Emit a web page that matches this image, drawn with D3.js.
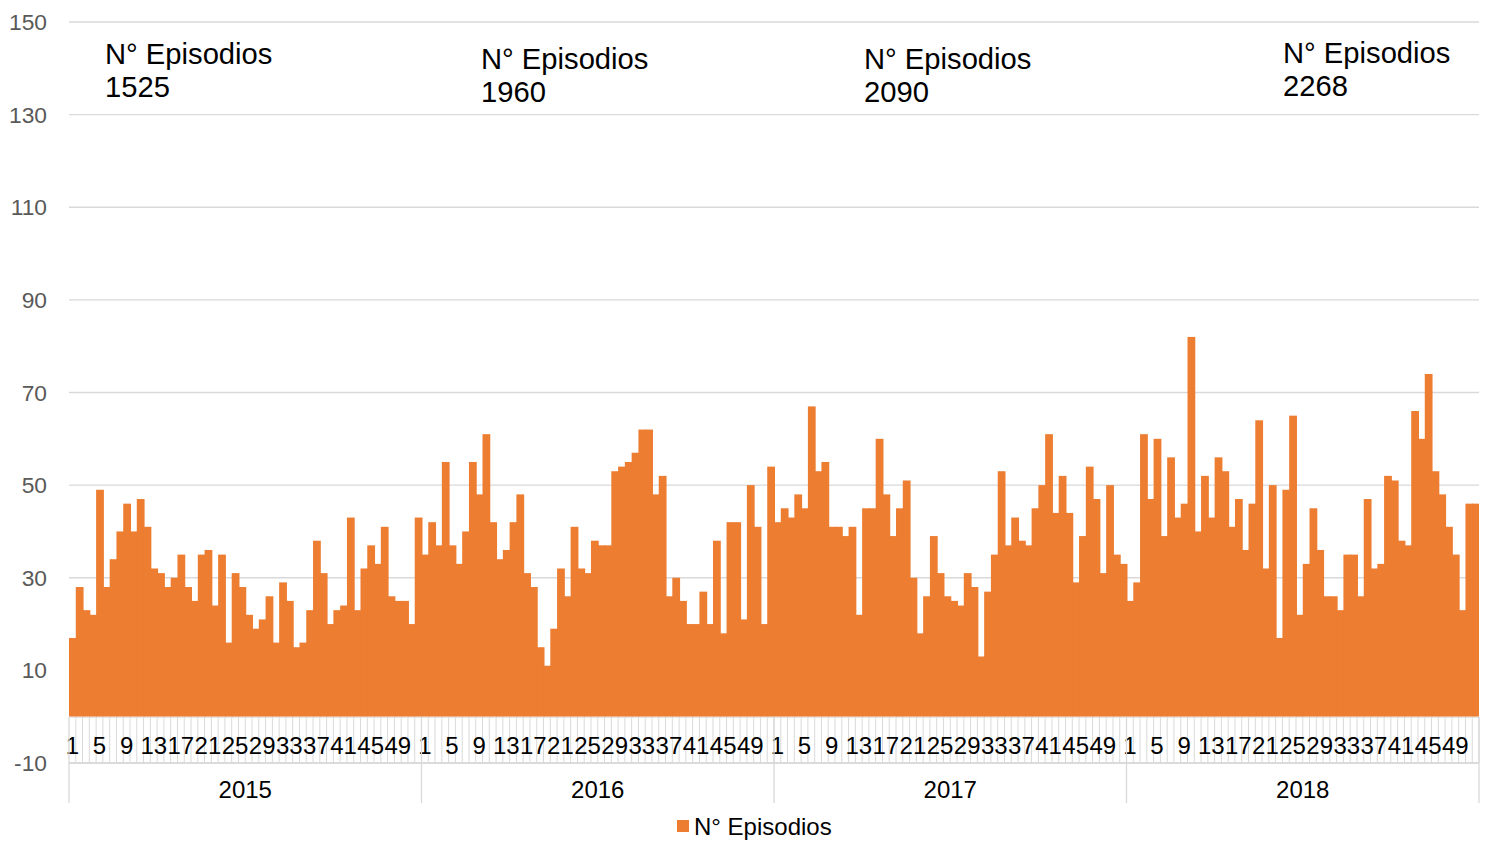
<!DOCTYPE html>
<html>
<head>
<meta charset="utf-8">
<script src="https://cdn.jsdelivr.net/npm/d3@7"></script>
<style>
  html, body { margin: 0; padding: 0; background: #fff; }
  svg { display: block; font-family: "Liberation Sans", Arial, sans-serif; }
</style>
</head>
<body>
<svg id="chart" width="1488" height="842"></svg>
<script>
// ---- data ----
const years = ["2015", "2016", "2017", "2018"];
const weeks = d3.range(1, 53);
const values2015 = [17,28,23,22,49,28,34,40,46,40,47,41,32,31,28,30,35,28,25,35,36,24,35,16,31,28,22,19,21,26,16,29,25,15,16,23,38,31,20,23,24,43,23,32,37,33,41,26,25,25,20,43];
const values2016 = [35,42,37,55,37,33,40,55,48,61,42,34,36,42,48,31,28,15,11,19,32,26,41,32,31,38,37,37,53,54,55,57,62,62,48,52,26,30,25,20,20,27,20,38,18,42,42,21,50,41,20,54];
const values2017 = [42,45,43,48,45,67,53,55,41,41,39,41,22,45,45,60,48,39,45,51,30,18,26,39,31,26,25,24,31,28,13,27,35,53,37,43,38,37,45,50,61,44,52,44,29,39,54,47,31,50,35,33];
const values2018 = [25,29,61,47,60,39,56,43,46,82,40,52,43,56,53,41,47,36,46,64,32,50,17,49,65,22,33,45,36,26,26,23,35,35,26,47,32,33,52,51,38,37,66,60,74,53,48,41,35,23,46,46];
const yearTotals = ["1525", "1960", "2090", "2268"];
const seriesName = "N° Episodios";
const yTicks = [-10, 10, 30, 50, 70, 90, 110, 130, 150];

// ---- build table ----
const allValues = [values2015, values2016, values2017, values2018];
const rows = [];
years.forEach((yr, yi) => {
  weeks.forEach((w, wi) => {
    rows.push({ key: yr + "-" + w, year: yr, week: w, value: allValues[yi][wi] });
  });
});

// ---- layout ----
const svg = d3.select("#chart");
const plotL = 69, plotR = 1479, plotT = 22, plotB = 763;
const x = d3.scaleBand().domain(rows.map(d => d.key)).range([plotL, plotR]).padding(0);
const y = d3.scaleLinear().domain([-10, 150]).range([plotB, plotT]);
const grid = "#d9d9d9";
const orange = "#ED7D31";

// gridlines
svg.append("g").selectAll("line").data(yTicks).join("line")
  .attr("x1", plotL).attr("x2", plotR)
  .attr("y1", d => y(d)).attr("y2", d => y(d))
  .attr("stroke", grid).attr("stroke-width", 1.3);

// y labels
svg.append("g").selectAll("text").data(yTicks).join("text")
  .attr("x", 47).attr("y", d => y(d) + 8)
  .attr("text-anchor", "end")
  .attr("font-size", 22.8).attr("fill", "#595959")
  .text(d => d);

// bars
const bw = x.bandwidth();
svg.append("g").selectAll("rect").data(rows).join("rect")
  .attr("x", d => x(d.key))
  .attr("width", (d, i) => i === rows.length - 1 ? bw : bw + 1)
  .attr("y", d => y(d.value))
  .attr("height", d => y(0) - y(d.value))
  .attr("fill", orange);

// category axis: base line
const y0 = y(0);
svg.append("line").attr("x1", plotL).attr("x2", plotR)
  .attr("y1", y0 + 0.5).attr("y2", y0 + 0.5)
  .attr("stroke", grid).attr("stroke-width", 1);

// week tick lines (between categories)
svg.append("g").selectAll("line").data(rows).join("line")
  .attr("x1", d => x(d.key) + bw).attr("x2", d => x(d.key) + bw)
  .attr("y1", y0 + 1).attr("y2", plotB)
  .attr("stroke", grid).attr("stroke-width", 1);

// week labels
svg.append("g").selectAll("text").data(rows.filter(d => (d.week - 1) % 4 === 0)).join("text")
  .attr("x", d => x(d.key) + bw / 2)
  .attr("y", 754)
  .attr("text-anchor", "middle")
  .attr("font-size", 24).attr("fill", "#000")
  .text(d => d.week);

// year separators & labels
const yearStart = yr => x(yr + "-1");
const yearEnd = yr => x(yr + "-52") + bw;
svg.append("line").attr("x1", plotL).attr("x2", plotR)
  .attr("y1", plotB).attr("y2", plotB)
  .attr("stroke", grid).attr("stroke-width", 1.3);
const seps = years.map(yearStart).concat([yearEnd(years[years.length - 1])]);
svg.append("g").selectAll("line").data(seps).join("line")
  .attr("x1", d => d).attr("x2", d => d)
  .attr("y1", y0).attr("y2", 803)
  .attr("stroke", grid).attr("stroke-width", 1.3);
svg.append("g").selectAll("text").data(years).join("text")
  .attr("x", d => (yearStart(d) + yearEnd(d)) / 2)
  .attr("y", 798)
  .attr("text-anchor", "middle")
  .attr("font-size", 24).attr("fill", "#000")
  .text(d => d);

// annotations with totals
const annoPos = [[105, 64], [481, 69], [864, 69], [1283, 63]];
years.forEach((yr, i) => {
  const t = svg.append("text")
    .attr("x", annoPos[i][0]).attr("y", annoPos[i][1])
    .attr("font-size", 29.2).attr("fill", "#000");
  t.append("tspan").attr("x", annoPos[i][0]).text(seriesName);
  t.append("tspan").attr("x", annoPos[i][0]).attr("dy", 33).text(yearTotals[i]);
});

// legend
const lg = svg.append("g");
lg.append("rect").attr("x", 677).attr("y", 820).attr("width", 12).attr("height", 12).attr("fill", orange);
lg.append("text").attr("x", 694).attr("y", 834.5).attr("font-size", 24).attr("fill", "#000").text(seriesName);
</script>
</body>
</html>
